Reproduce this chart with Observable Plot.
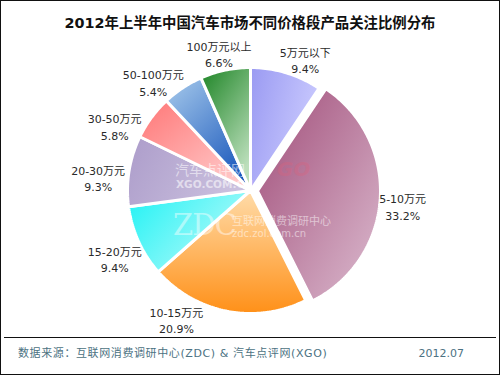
<!DOCTYPE html>
<html>
<head>
<meta charset="utf-8">
<script src="https://cdn.jsdelivr.net/npm/d3@7"></script>
<script src="https://cdn.jsdelivr.net/npm/@observablehq/plot@0.6"></script>
<style>
  html, body { margin: 0; padding: 0; background: #fff; }
  #frame { position: relative; width: 500px; height: 375px; box-sizing: border-box; border: 1px solid #111; overflow: hidden;
           font-family: "DejaVu Sans", "Noto Sans CJK SC", sans-serif; }
  #title { position: absolute; top: 13px; left: 0; width: 498px; text-align: center; font-size: 14.4px; font-weight: bold;
           line-height: 18px; color: #111; font-family: "DejaVu Sans", "Noto Sans CJK SC", sans-serif; }
  #chart { position: absolute; top: 0; left: 0; }
  #sep { position: absolute; top: 336px; left: 3px; width: 492px; height: 0; border-top: 1px solid #111; }
  .foot { position: absolute; top: 346px; font-size: 11px; line-height: 14px; color: #4c7282; }
  .wm { position: absolute; color: #fff; white-space: nowrap; pointer-events: none; line-height: 1; }
</style>
</head>
<body>
<div id="frame">
  <div id="chart"></div>
  <div id="title"></div>
  <div class="wm" style="left:276px;top:158px;font-size:20px;font-weight:bold;font-style:italic;color:#e0607a;opacity:0.3;">GO</div>
  <div class="wm" style="left:174px;top:162px;font-size:14px;opacity:0.55;">汽车点评网</div>
  <div class="wm" style="left:175px;top:178px;font-size:10.5px;font-weight:bold;opacity:0.55;">XGO.COM.CN</div>
  <div class="wm" style="left:172px;top:210px;font-size:29px;font-family:'DejaVu Serif';opacity:0.45;letter-spacing:-1px;">ZDC</div>
  <div class="wm" style="left:231px;top:215px;font-size:11px;opacity:0.5;">互联网消费调研中心</div>
  <div class="wm" style="left:231px;top:228px;font-size:10px;opacity:0.5;">zdc.zol.com.cn</div>
  <div id="sep"></div>
  <div class="foot" id="src" style="left:17px;letter-spacing:0.6px;"></div>
  <div class="foot" id="date" style="right:35px;"></div>
</div>
<script>
// ---- data ----
const titleText = "2012年上半年中国汽车市场不同价格段产品关注比例分布";
const categories = ["5万元以下", "5-10万元", "10-15万元", "15-20万元", "20-30万元", "30-50万元", "50-100万元", "100万元以上"];
const shares = [9.4, 33.2, 20.9, 9.4, 9.3, 5.8, 5.4, 6.6];
const sourceText = "数据来源：互联网消费调研中心(ZDC) & 汽车点评网(XGO)";
const dateText = "2012.07";

// ---- styles ----
const gradients = [
  {c0: "#9a9af2", c1: "#cacafe", x1: 0, y1: 0, x2: 1, y2: 0.4},
  {c0: "#a04c78", c1: "#dcbcd0", x1: 0, y1: 0, x2: 1, y2: 1},
  {c0: "#ffdcaa", c1: "#ff9018", x1: 0, y1: 0, x2: 0, y2: 1},
  {c0: "#1ef2f4", c1: "#b4fafa", x1: 0, y1: 0, x2: 1, y2: 0.6},
  {c0: "#ac9cca", c1: "#cac0de", x1: 0, y1: 0, x2: 1, y2: 0.3},
  {c0: "#ff7676", c1: "#ffd4d4", x1: 0, y1: 0, x2: 1, y2: 1},
  {c0: "#a8cbec", c1: "#1a58bc", x1: 0, y1: 0, x2: 0.7, y2: 1},
  {c0: "#1c8424", c1: "#bcdfbc", x1: 0, y1: 0, x2: 0.6, y2: 1}
];
const exploded = 1;             // index of pulled-out slice
const explodeAmt = 7 / 123;     // in radius units
const labelAngleShift = [4, 2.5, 18, -3, -4, -9, -6, 0]; // degrees
const cx = 249, cy = 189, R = 123;

document.getElementById("title").textContent = titleText;
document.getElementById("src").textContent = sourceText;
document.getElementById("date").textContent = dateText;

// ---- geometry from data ----
const arcs = d3.pie().sort(null).value(d => d)(shares);
const slicePts = arcs.map((a, i) => {
  const mid = (a.startAngle + a.endAngle) / 2;
  const e = i === exploded ? explodeAmt : 0;
  const ox = e * Math.sin(mid), oy = e * Math.cos(mid);
  const pts = [{x: ox, y: oy}];
  const n = Math.max(2, Math.ceil((a.endAngle - a.startAngle) / (Math.PI / 180)));
  for (let k = 0; k <= n; k++) {
    const t = a.startAngle + (a.endAngle - a.startAngle) * k / n;
    pts.push({x: ox + Math.sin(t), y: oy + Math.cos(t)});
  }
  pts.push({x: ox, y: oy});
  return pts;
});
const rL = 125 / R, hw = 28 / R, hhUp = 15 / R, hhDown = 23 / R;
const labels = arcs.map((a, i) => {
  const mid = (a.startAngle + a.endAngle) / 2 + labelAngleShift[i] * Math.PI / 180;
  const ux = Math.sin(mid), uy = Math.cos(mid);
  return {x: ux * (rL + hw), y: uy * (rL + (uy < 0 ? hhDown : hhUp)), text: categories[i] + "\n" + shares[i].toFixed(1) + "%"};
});

const plot = Plot.plot({
  width: 498, height: 336,
  margin: 0,
  x: {domain: [-1, 1], range: [cx - R, cx + R], axis: null},
  y: {domain: [1, -1], range: [cy - R, cy + R], axis: null},
  marks: [
    ...slicePts.map((pts, i) => Plot.line(pts, {x: "x", y: "y", fill: `url(#pg${i})`, stroke: "white", strokeWidth: 3, strokeLinejoin: "miter"})),
    Plot.text(labels, {x: "x", y: "y", text: "text", fontSize: 11, lineHeight: 1.5, fill: "#2a2a2a",
      fontFamily: "DejaVu Sans, Noto Sans CJK SC, sans-serif"})
  ]
});

const svg = d3.select(plot);
const defs = svg.insert("defs", ":first-child");
gradients.forEach((g, i) => {
  const lg = defs.append("linearGradient").attr("id", `pg${i}`)
    .attr("x1", g.x1).attr("y1", g.y1).attr("x2", g.x2).attr("y2", g.y2);
  lg.append("stop").attr("offset", "0%").attr("stop-color", g.c0);
  lg.append("stop").attr("offset", "100%").attr("stop-color", g.c1);
});
document.getElementById("chart").appendChild(plot);
</script>
</body>
</html>
